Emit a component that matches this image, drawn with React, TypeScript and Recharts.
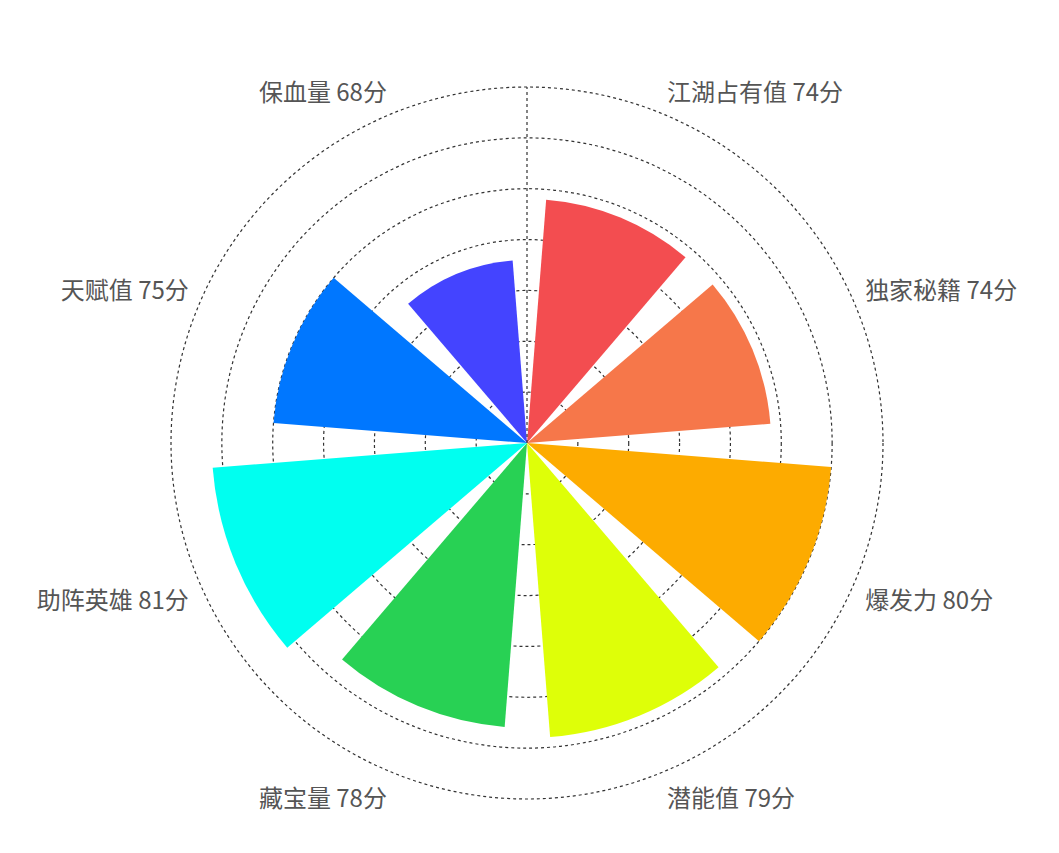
import { RadialBarChart, RadialBar, PolarAngleAxis, PolarRadiusAxis, PolarGrid, Cell } from 'recharts'

const categories = ['江湖占有值', '独家秘籍', '爆发力', '潜能值', '藏宝量', '助阵英雄', '天赋值', '保血量']
const scores = [74, 74, 80, 79, 78, 81, 75, 68]
const colors = ['#F34D50', '#F6774A', '#FDAB00', '#DEFF08', '#28D154', '#00FFF0', '#0077FF', '#4444FF']
const radiusTicks = [50, 55, 60, 65, 70, 75, 80, 85]

const data = categories.map((name, i) => ({ name, value: scores[i], label: `${name} ${scores[i]}分` }))

const CX = 519
const CY = 435
const OUTER = 356
const LABEL_R = 366

// recharts puts the category tick at the band edge, so the label is placed at the band middle here
function AngleTick(props: any) {
  const { index } = props
  const deg = 67.5 - 45 * index
  const rad = (deg * Math.PI) / 180
  const x = CX + LABEL_R * Math.cos(rad)
  const y = CY - LABEL_R * Math.sin(rad)
  const below = y > CY
  return (
    <text
      x={x}
      y={y}
      dy={below ? 26 : -4}
      textAnchor={Math.cos(rad) > 0 ? 'start' : 'end'}
      fill="#555"
      fontSize={24}
      fontFamily='"Noto Sans CJK SC", sans-serif'
    >
      {data[index]?.label}
    </text>
  )
}

export default function App() {
  return (
    <div style={{ width: 1040, height: 830, background: '#fff' }}>
      <RadialBarChart
        width={1040}
        height={830}
        data={data}
        layout="centric"
        cx={CX}
        cy={CY}
        innerRadius={0}
        outerRadius={OUTER}
        startAngle={45}
        endAngle={-315}
        barCategoryGap="10%"
      >
        <PolarGrid gridType="circle" radialLines={false} stroke="#333" strokeWidth={1.2} strokeDasharray="3 3" />
        <PolarAngleAxis
          type="category"
          dataKey="name"
          axisLine={false}
          tickLine={false}
          tick={<AngleTick />}
        />
        <PolarRadiusAxis
          type="number"
          angle={90}
          domain={[50, 85]}
          ticks={radiusTicks}
          tick={false}
          axisLine={{ stroke: '#333', strokeWidth: 1.2, strokeDasharray: '3 3' }}
        />
        <RadialBar dataKey="value" isAnimationActive={false}>
          {data.map((d, i) => (
            <Cell key={d.name} fill={colors[i]} />
          ))}
        </RadialBar>
      </RadialBarChart>
    </div>
  )
}
